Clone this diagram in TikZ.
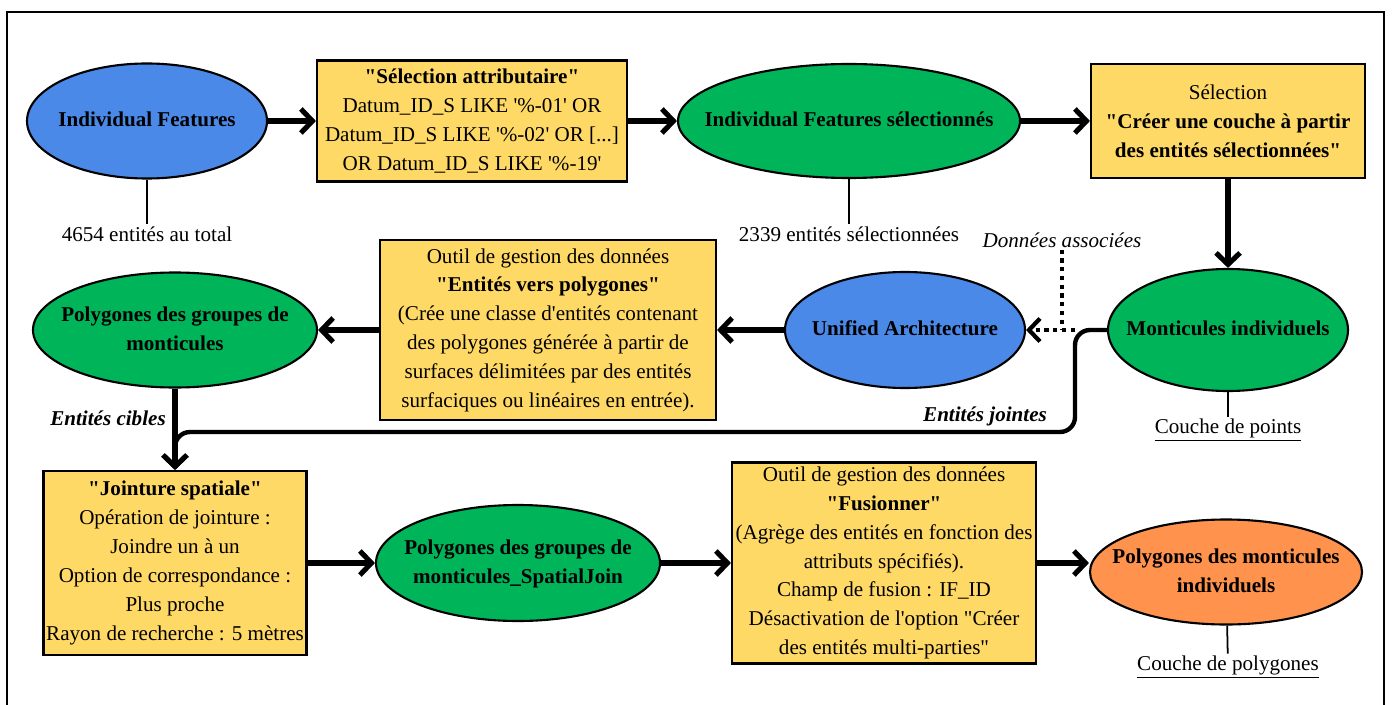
\documentclass[tikz,border=0pt]{standalone}
\usepackage{fontspec}
\setmainfont{LiberationSerif}[Extension=.ttf,UprightFont=*-Regular,BoldFont=*-Bold,ItalicFont=*-Italic,BoldItalicFont=*-BoldItalic,Ligatures=TeXOff]
\usetikzlibrary{shapes.geometric,arrows.meta}

\definecolor{bleu}{RGB}{74,137,232}
\definecolor{vert}{RGB}{0,180,90}
\definecolor{jaune}{RGB}{255,217,102}
\definecolor{orangef}{RGB}{255,146,77}

\newcommand{\ap}{\textquotesingle}
\newcommand{\centre}[1]{\makebox[0pt]{\begin{tabular}{@{}c@{}}#1\end{tabular}}}

\tikzstyle{couche}= [ellipse,draw,black,line width=1.2pt,inner sep=0pt,align=center,font=\fontsize{12}{16.4}\selectfont\bfseries]
\tikzstyle{outil}= [rectangle,draw,black,line width=1.2pt,fill=jaune,inner sep=0pt,align=center,font=\fontsize{12}{16.4}\selectfont]
\tikzstyle{texte}= [inner sep=1pt,font=\fontsize{12}{16.4}\selectfont]
\tikzstyle{fleche}= [black,line width=2.9pt,-{Straight Barb[length=2.3mm,width=4.8mm]}]
\tikzstyle{pointille}= [black,line width=2.4pt,dash pattern=on 2.4pt off 2.6pt]
\tikzstyle{trait}= [black,line width=1pt]

\begin{document}
\begin{tikzpicture}
		\useasboundingbox (0,0) rectangle (27.84,14.08);
		\fill[white] (0,0) rectangle (27.84,14.08);
		\draw[line width=1.4pt] (0.14,-0.5) -- (0.14,13.84) -- (27.68,13.84) -- (27.68,-0.5);

		% ligne du haut
		\node (indf) at (2.94,11.66) [couche,fill=bleu,minimum width=4.8cm,minimum height=2.3cm] {\centre{Individual Features}};
		\node (tot) at (2.94,9.40) [texte] {4654 entités au total};

		\node (selattr) at (9.44,11.66) [outil,minimum width=6.2cm,minimum height=2.42cm] {\textbf{"Sélection attributaire"}\\Datum\_ID\_S LIKE \ap\%-01\ap{} OR\\Datum\_ID\_S LIKE \ap\%-02\ap{} OR [...]\\OR Datum\_ID\_S LIKE \ap\%-19\ap};

		\node (indfsel) at (16.98,11.66) [couche,fill=vert,minimum width=6.84cm,minimum height=2.28cm] {\centre{Individual Features sélectionnés}};
		\node (nbsel) at (16.98,9.40) [texte] {2339 entités sélectionnées};

		\node (selcouche) at (24.56,11.66) [outil,minimum width=5.48cm,minimum height=2.28cm] {Sélection\\\textbf{"Créer une couche à partir}\\\textbf{des entités sélectionnées"}};

		% ligne du milieu
		\node (mont) at (24.56,7.48) [couche,fill=vert,minimum width=4.8cm,minimum height=2.44cm] {\centre{Monticules individuels}};
		\node (points) at (24.56,5.48) [texte] {\underline{Couche de points}};

		\node (ua) at (18.10,7.48) [couche,fill=bleu,minimum width=4.8cm,minimum height=2.32cm] {\centre{Unified Architecture}};
		\node (don) at (21.24,9.28) [texte] {\itshape Données associées};

		\node (evp) at (10.96,7.48) [outil,minimum width=6.72cm,minimum height=3.6cm] {Outil de gestion des données\\\textbf{"Entités vers polygones"}\\(Crée une classe d\ap entités contenant\\des polygones générée à partir de\\surfaces délimitées par des entités\\surfaciques ou linéaires en entrée).};

		\node (pgm) at (3.5,7.48) [couche,fill=vert,minimum width=5.68cm,minimum height=2.3cm] {\centre{Polygones des groupes de\\monticules}};
		\node (cibles) at (2.16,5.72) [texte] {\bfseries\itshape Entités cibles};
		\node (jointes) at (19.70,5.76) [texte] {\bfseries\itshape Entités jointes};

		% ligne du bas
		\node (jsp) at (3.5,2.82) [outil,minimum width=5.26cm,minimum height=3.68cm] {\textbf{"Jointure spatiale"}\\Opération de jointure :\\Joindre un à un\\Option de correspondance :\\Plus proche\\Rayon de recherche : 5 mètres};

		\node (pgsj) at (10.36,2.82) [couche,fill=vert,minimum width=5.68cm,minimum height=2.32cm] {\centre{Polygones des groupes de\\monticules\_SpatialJoin}};

		\node (fus) at (17.68,2.82) [outil,minimum width=6.08cm,minimum height=4.02cm] {Outil de gestion des données\\\textbf{"Fusionner"}\\(Agrège des entités en fonction des\\attributs spécifiés).\\Champ de fusion : IF\_ID\\Désactivation de l\ap option "Créer\\des entités multi-parties"};

		\node (pmi) at (24.52,2.64) [couche,fill=orangef,minimum width=5.44cm,minimum height=2.1cm] {\centre{Polygones des monticules\\individuels}};
		\node (polys) at (24.56,0.74) [texte] {\underline{Couche de polygones}};

		\coordinate (j) at (21.5,7.48);
		\coordinate (coin) at (21.5,5.44);
		\coordinate (coin2) at (3.5,5.44);

		\path[trait] (indf) edge[] node {} (tot);
		\path[trait] (indfsel) edge[] node {} (nbsel);
		\path[trait] (mont) edge[] node {} (points);
		\path[trait] (pmi) edge[] node {} (polys);

		\path[fleche] (indf) edge[] node {} (selattr);
		\path[fleche] (selattr) edge[] node {} (indfsel);
		\path[fleche] (indfsel) edge[] node {} (selcouche);
		\path[fleche] (selcouche) edge[] node {} (mont);
		\path[fleche] (ua) edge[] node {} (evp);
		\path[fleche] (evp) edge[] node {} (pgm);
		\path[fleche] (pgm) edge[] node {} (jsp);
		\path[fleche] (jsp) edge[] node {} (pgsj);
		\path[fleche] (pgsj) edge[] node {} (fus);
		\path[fleche] (fus.east) edge[] node {} (fus.east -| pmi.west);

		\draw[fleche,line width=2.5pt,rounded corners=0.3cm] (mont) -- (j) -- (coin) -- (coin2) -- (jsp);
		\draw[pointille,-{Straight Barb[length=2.2mm,width=4.6mm]}] (j) -- (ua);
		\draw[pointille] (don) -- (don |- j);
		\end{tikzpicture}
\end{document}
